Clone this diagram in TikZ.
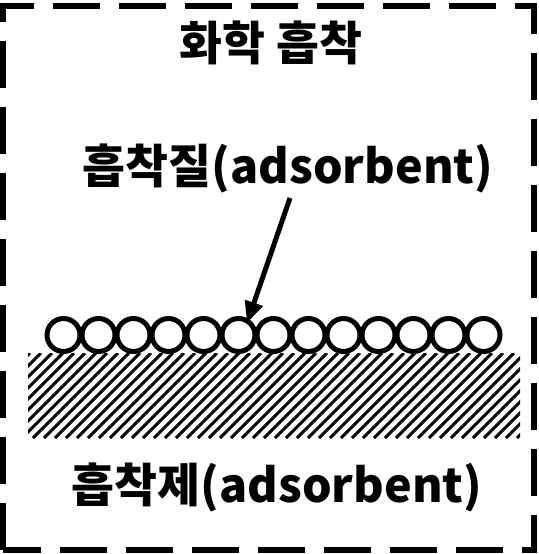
\documentclass[tikz,border=0pt]{standalone}
\usepackage{fontspec}
\setmainfont{Noto Sans CJK KR}[BoldFont={Noto Sans CJK KR Black}]
\usetikzlibrary{arrows.meta,calc}
\tikzset{
  particle/.style={circle, draw, fill=white, line width=3.75pt, inner sep=0pt, minimum size=24.75pt},
  hatchline/.style={line width=2.2pt},
  bigtext/.style={font=\fontsize{35}{37}\selectfont\bfseries, inner sep=0pt},
  pointer/.style={line width=3.75pt, -{Triangle[length=16pt,width=13.5pt]}}
}

\begin{document}
\begin{tikzpicture}[x=0.75pt,y=0.75pt,yscale=-1,xscale=1]
  \useasboundingbox (0,0) rectangle (539,554);

  %Dashed frame
  \draw [line width=4.5pt, dash pattern=on 35.25pt off 14.25pt]
    (3,550) -- (3,5.5) -- (533.5,5.5) -- (533.5,550) -- cycle;

  % Text Node
  \node [bigtext] (title) at (271,43) {화학 흡착};

  %Hatched slab
  \begin{scope}
    \clip (28,353) rectangle (520,438);
    \foreach \i in {-99,-88,...,520}
      \draw [hatchline] (\i,438) -- ++(85,-85);
  \end{scope}

  %Particles on the surface
  \foreach \k in {1,...,13}
    \node [particle] (c\k) at ({63.5+35*(\k-1)},335) {};

  % Text Node
  \node [bigtext] (adsorbate) at (288,168) {흡착질(adsorbent)};
  % Text Node
  \node [bigtext] (adsorbent) at (277,487) {흡착제(adsorbent)};

  %Straight Lines
  \coordinate (tail) at (290,198);
  \coordinate (tip) at ($(c6.center)+(8.5,-12)$);
  \draw [pointer] (tail) -- (tip);
\end{tikzpicture}
\end{document}
